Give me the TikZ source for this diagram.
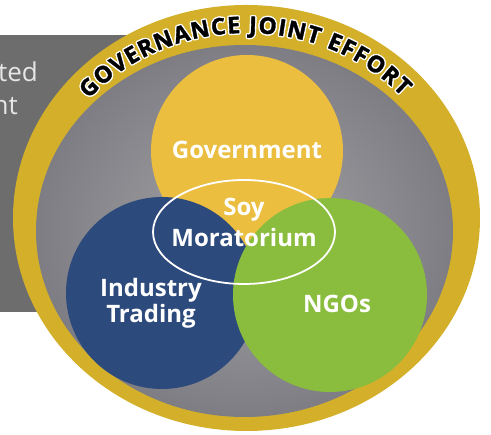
\documentclass[tikz,border=0pt]{standalone}
\usepackage{fontspec}
\setmainfont{Open Sans}
\usetikzlibrary{decorations.text,shadings}
\definecolor{ringgold}{HTML}{D4B02A}
\definecolor{rectgray}{HTML}{6D6D6D}
\definecolor{txtgray}{HTML}{E6E6E6}
\definecolor{discin}{HTML}{A4A4A6}
\definecolor{discout}{HTML}{7E7D84}
\definecolor{govyellow}{HTML}{EBBE40}
\definecolor{indblue}{HTML}{2D4A7C}
\definecolor{ngogreen}{HTML}{8ABD3D}
\newfontfamily\arcfont[FakeBold=1.5]{Open Sans Bold}
\begin{document}
\begin{tikzpicture}[x=1pt,y=1pt,
  lab/.style={text=white,font=\fontsize{24}{27}\selectfont\bfseries,align=center,inner sep=0pt},
  disc/.style={circle,inner sep=0pt,minimum size=#1},
  sidetxt/.style={anchor=base east,text=txtgray,font=\fontsize{26}{30}\selectfont,inner sep=0pt},
  arcpath/.style={decorate,decoration={text along path,
     text={|\fontsize{23}{26}\arcfont|GOVERNANCE JOINT EFFORT},
     text align=fit to path, text color=#1}}]
\useasboundingbox (0,0) rectangle (491,435);
\fill[white] (0,0) rectangle (491,435);
\fill[rectgray] (0,123) rectangle (200,400);
\node[sidetxt] (t1) at (38,353) {ted};
\node[sidetxt] (t2) at (18,320) {nt};
\fill[ringgold] (246.5,217) ellipse[x radius=233.5,y radius=213];
\shade[inner color=discin,outer color=discout] (244.5,204) ellipse[x radius=208.5,y radius=186];
\node[disc=192pt,fill=govyellow] (gov) at (247,284) {};
\node[disc=192pt,fill=indblue] (ind) at (162,142) {};
\node[disc=194pt,fill=ngogreen] (ngo) at (330,140) {};
\draw[white,line width=1.8pt] (244,203) ellipse[x radius=91,y radius=52];
\node[lab] (lgov) at (247,285) {Government};
\node[lab] (lsoy) at (244,225) {Soy};
\node[lab] (lmor) at (244,197) {Moratorium};
\node[lab] (lind) at (151,145) {Industry};
\node[lab] (ltra) at (151,119) {Trading};
\node[lab] (lngo) at (337,131) {NGOs};
\foreach \dx/\dy in {1.4/0,-1.4/0,0/1.4,0/-1.4,1/1,-1/1,1/-1,-1/-1}{
  \path[arcpath=white,xshift=\dx,yshift=\dy] (246.5,217) ++(140:206 and 185)
     arc[start angle=140,end angle=41,x radius=206,y radius=185];
}
\path[arcpath=black] (246.5,217) ++(140:206 and 185)
     arc[start angle=140,end angle=41,x radius=206,y radius=185];
\end{tikzpicture}
\end{document}
